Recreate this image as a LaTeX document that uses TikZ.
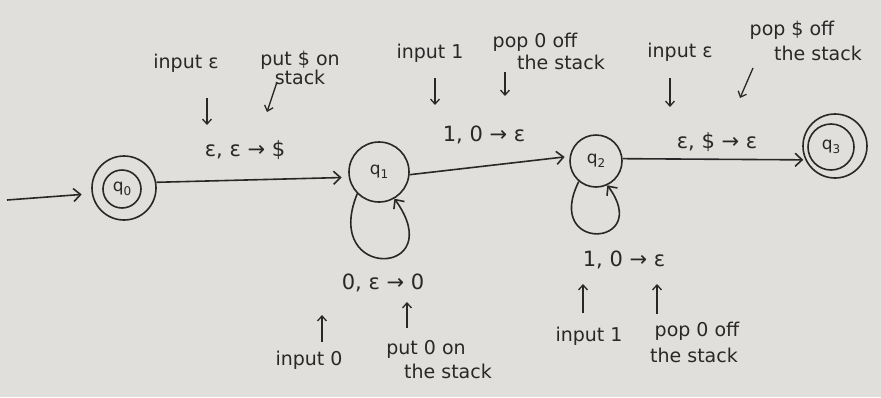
\documentclass[tikz,border=0pt]{standalone}
\usepackage{fontspec}
\setmainfont{DejaVu Sans}
\usetikzlibrary{arrows.meta}
\definecolor{paper}{RGB}{224,223,219}
\definecolor{ink}{RGB}{40,40,40}
\newcommand\qsub[1]{q\raisebox{-0.45ex}{\fontsize{12}{12}\selectfont #1}}
\begin{document}
\begin{tikzpicture}[x=1pt,y=-1pt,
  pstate/.style={circle, draw=ink, line width=1.6pt, inner sep=0pt, text=ink,
    font=\fontsize{17}{17}\selectfont},
  edge/.style={draw=ink, line width=1.6pt, -{Straight Barb[length=7pt,width=13pt]}},
  pointer/.style={draw=ink, line width=1.3pt, -{Straight Barb[length=5pt,width=9pt]}},
  trans/.style={text=ink, inner sep=1pt, font=\fontsize{21}{21}\selectfont},
  note/.style={text=ink, inner sep=1pt, align=center, font=\fontsize{19}{17}\selectfont}]
% paper
\fill[paper] (0,0) rectangle (881,397);
\useasboundingbox (0,0) rectangle (881,397);

% states
\node[pstate, minimum size=64pt] (q0) at (124,188) {};
\node[pstate, minimum size=38pt] (q0in) at (122,189) {\qsub{0}};
\node[pstate, minimum size=60pt] (q1) at (379,172) {\qsub{1}};
\node[pstate, minimum size=52pt] (q2) at (596,161) {\qsub{2}};
\node[pstate, minimum size=64pt] (q3) at (835,146) {};
\node[pstate, minimum size=46pt] (q3in) at (831,147) {\qsub{3}};

% start arrow and transitions
\coordinate (start) at (7,200);
\draw[edge, shorten >=10pt] (start) -- (q0.190);
\draw[edge, shorten >=7pt] (q0.10) -- (q1.190);
\draw[edge, shorten >=5pt] (q1.-5) -- (q2.170);
\draw[edge, shorten >=2pt] (q2.5) -- (q3.205);
\draw[edge] (q1.225) .. controls +(-36,88) and +(56,78) .. (q1.-60);
\draw[edge] (q2.230) .. controls +(-36,72) and +(46,62) .. (q2.-65);

% transition labels
\node[trans] (l01) at (245,150) {ε, ε → \$};
\node[trans] (l12) at (484,135) {1, 0 → ε};
\node[trans] (l23) at (717,142) {ε, \$ → ε};
\node[trans] (l11) at (383,283) {0, ε → 0};
\node[trans] (l22) at (624,260) {1, 0 → ε};

% notes on q0 -> q1
\node[note] (n01a) at (186,63) {input ε};
\node[note] (n01b) at (300,68) {put \$ on\\stack};
\coordinate (p1s) at (207,98);  \coordinate (p1e) at (207,125);
\coordinate (p2s) at (277,82);  \coordinate (p2e) at (267,112);
\draw[pointer] (p1s) -- (p1e);
\draw[pointer] (p2s) -- (p2e);

% notes on q1 -> q2
\node[note] (n12a) at (430,53) {input 1};
\node[note] (n12b) at (535,42) {pop 0 off};
\node[note] (n12c) at (561,62) {the stack};
\coordinate (p3s) at (435,78);  \coordinate (p3e) at (435,105);
\coordinate (p4s) at (505,72);  \coordinate (p4e) at (505,96);
\draw[pointer] (p3s) -- (p3e);
\draw[pointer] (p4s) -- (p4e);

% notes on q2 -> q3
\node[note] (n23a) at (680,52) {input ε};
\node[note] (n23b) at (792,30) {pop \$ off};
\node[note] (n23c) at (818,53) {the stack};
\coordinate (p5s) at (670,78);  \coordinate (p5e) at (670,107);
\coordinate (p6s) at (753,68);  \coordinate (p6e) at (740,98);
\draw[pointer] (p5s) -- (p5e);
\draw[pointer] (p6s) -- (p6e);

% notes on the loop at q1
\node[note] (n11a) at (309,360) {input 0};
\node[note] (n11b) at (426,349) {put 0 on};
\node[note] (n11c) at (448,371) {the stack};
\coordinate (p7s) at (322,342); \coordinate (p7e) at (322,315);
\coordinate (p8s) at (407,328); \coordinate (p8e) at (407,302);
\draw[pointer] (p7s) -- (p7e);
\draw[pointer] (p8s) -- (p8e);

% notes on the loop at q2
\node[note] (n22a) at (589,336) {input 1};
\node[note] (n22b) at (697,331) {pop 0 off};
\node[note] (n22c) at (694,355) {the stack};
\coordinate (p9s) at (583,313); \coordinate (p9e) at (583,284);
\coordinate (p10s) at (657,314); \coordinate (p10e) at (657,284);
\draw[pointer] (p9s) -- (p9e);
\draw[pointer] (p10s) -- (p10e);
\end{tikzpicture}
\end{document}
